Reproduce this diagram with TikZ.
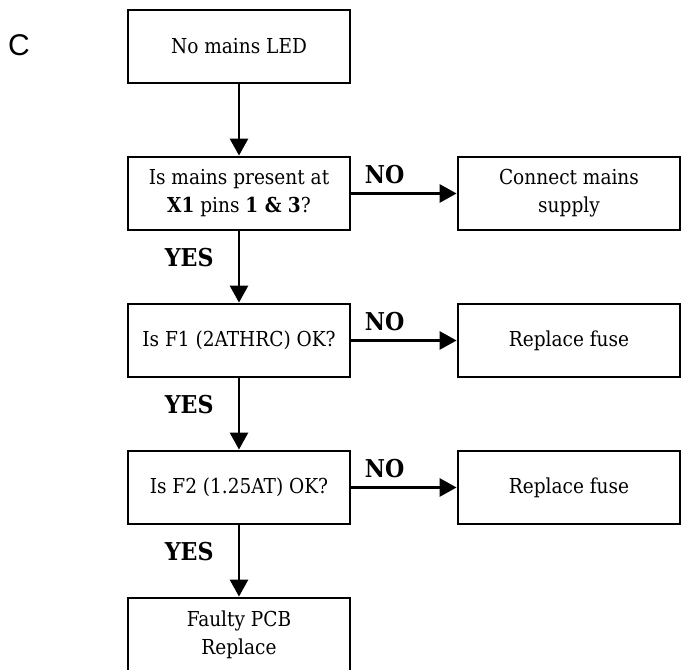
\documentclass[tikz,border=0pt]{standalone}
\usepackage{fontspec}
\setmainfont{DejaVu Serif Condensed}
\newfontfamily\tagfont{Liberation Sans}
\usetikzlibrary{positioning, arrows.meta}

\tikzset{
  stepbox/.style={draw, line width=1.4pt, minimum width=111pt,
    minimum height=36.5pt, align=center, inner sep=2pt,
    font=\fontsize{10.3}{14}\selectfont},
  flow/.style={line width=1.4pt, -{Triangle[length=8.5pt, width=9pt]}},
  answer/.style={font=\fontsize{12.3}{14}\selectfont\bfseries, inner sep=0pt},
}

\begin{document}
\begin{tikzpicture}[x=1pt, y=1pt]

% ============================================================ the frame
\useasboundingbox (0,0) rectangle (340.5,335);

\node[font=\tagfont\fontsize{15}{17}\selectfont, inner sep=0pt] (tag)
  at (9.5,312.5) {C};

% ===================================================== the main column
\node[stepbox] (led) at (119.5,311.75) {No mains LED};
\node[stepbox, below=35.6pt of led] (mains)
  {Is mains present at\\ \textbf{X1} pins \textbf{1 \& 3}?};
\node[stepbox, below=35.6pt of mains] (fone) {Is F1 (2ATHRC) OK?};
\node[stepbox, below=35.6pt of fone] (ftwo) {Is F2 (1.25AT) OK?};
\node[stepbox, below=35.6pt of ftwo] (pcb) {Faulty PCB\\ Replace};

% ====================================================== the remedies
\node[stepbox, right=52.6pt of mains] (supply) {Connect mains\\ supply};
\node[stepbox, right=52.6pt of fone] (fuseone) {Replace fuse};
\node[stepbox, right=52.6pt of ftwo] (fusetwo) {Replace fuse};

% ====================================================== the connectors
\draw[flow] (led) -- (mains);
\foreach \from/\to in {mains/fone, fone/ftwo, ftwo/pcb}
  \draw[flow] (\from) -- node[answer, pos=0, anchor=north east,
    xshift=-12pt, yshift=-7.5pt] {YES} (\to);
\foreach \from/\to in {mains/supply, fone/fuseone, ftwo/fusetwo}
  \draw[flow] (\from) -- node[answer, pos=0, anchor=south west,
    xshift=6pt, yshift=4pt] {NO} (\to);

\end{tikzpicture}
\end{document}
